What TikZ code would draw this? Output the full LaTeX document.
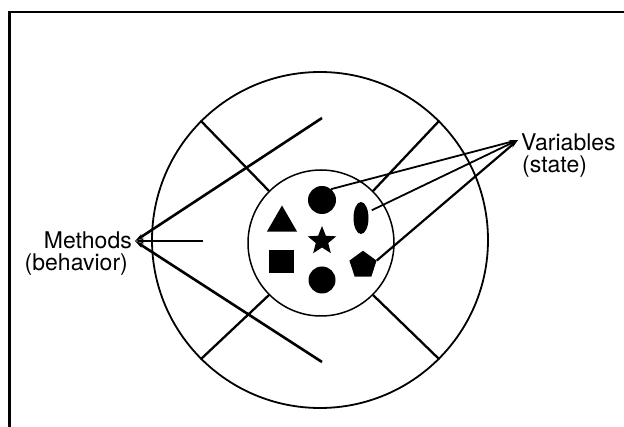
\documentclass[tikz,border=0pt]{standalone}
\usepackage{fontspec}
\setmainfont{TeX Gyre Heros}
\usetikzlibrary{arrows.meta,shapes.geometric,positioning}

\tikzset{
  lbl/.style={font=\fontsize{23}{25}\selectfont, inner sep=1pt},
  blob/.style={fill=black, draw=none, inner sep=0pt},
  pointer/.style={line width=1.8pt, {Stealth[length=9pt,width=4.5pt]}-},
}

\begin{document}
\begin{tikzpicture}[x=1pt,y=-1pt]
\useasboundingbox (0,0) rectangle (624,427);
\draw[line width=2.7pt] (9.5,427) -- (9.5,12) -- (624,12);
% the object: methods ring and variables core
\node[circle, draw, line width=1.8pt, minimum size=336pt] (outer) at (320,240) {};
\node[circle, draw, line width=1.5pt, minimum size=146pt] (inner) at (321,243) {};
\foreach \a in {45,135,225,315}
  \draw[line width=2.3pt] (inner.\a) -- (outer.\a);
% variables
\node[blob, circle, minimum size=28pt] (dottop) at (322,200) {};
\node[blob, circle, minimum size=27pt] (dotbot) at (322,280) {};
\node[blob, regular polygon, regular polygon sides=3, minimum size=35pt] (tri) at (282,223) {};
\node[blob, star, star points=5, star point ratio=2.3, minimum size=30pt] (starv) at (322,241) {};
\node[blob, rectangle, minimum width=25pt, minimum height=23pt] (sqr) at (281,262) {};
\node[blob, ellipse, minimum width=15pt, minimum height=32pt] (oval) at (361,218) {};
\node[blob, regular polygon, regular polygon sides=5, minimum size=28.5pt] (pent) at (363,265) {};
% labels
\node[lbl, anchor=east] (meth) at (133,240) {Methods};
\node[lbl, anchor=north east] (behav) at (129,253) {(behavior)};
\node[lbl, anchor=west] (vars) at (520,142) {Variables};
\node[lbl, anchor=north west] (state) at (521,155) {(state)};
\coordinate (methtip) at (135,241);
\coordinate (vartip) at (518,140);
\coordinate (methup) at (322,118);
\coordinate (methmid) at (203,241);
\coordinate (methlow) at (322,362);
% connectors
\draw[pointer, line width=2.6pt] (methtip) -- (methup);
\draw[pointer, line width=2pt] (methtip) -- (methmid);
\draw[pointer, line width=2.6pt] (methtip) -- (methlow);
\draw[pointer] (vartip) -- (dottop.50);
\draw[pointer, shorten >=4pt] (vartip) -- (oval.40);
\draw[pointer, line width=2.2pt] (vartip) -- (pent.corner 5);
\end{tikzpicture}
\end{document}
